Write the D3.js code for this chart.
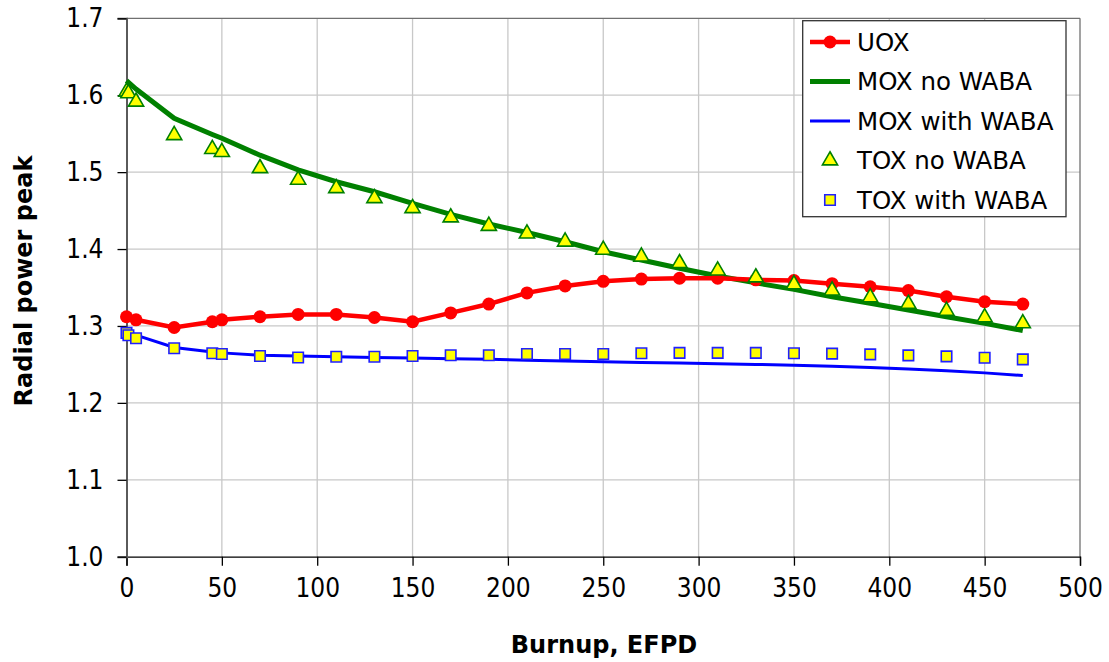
<!DOCTYPE html>
<html>
<head>
<meta charset="utf-8">
<script src="https://cdn.jsdelivr.net/npm/d3@7"></script>
<style>
  body { margin: 0; background: #fff; }
  svg { display: block; }
  text { font-family: 'DejaVu Sans', sans-serif; }
  .tick text { font-family: 'DejaVu Sans Condensed', 'DejaVu Sans', sans-serif; }
</style>
</head>
<body>
<div id="chart"></div>
<script>
// burnup points (EFPD)
const burnupCalc = [0, 5, 25, 45, 50, 70, 90, 110, 130, 150, 170, 190, 210, 230, 250, 270, 290, 310, 330, 350, 370, 390, 410, 430, 450, 470];
const burnupTox = [0, 1, 5, 25, 45, 50, 70, 90, 110, 130, 150, 170, 190, 210, 230, 250, 270, 290, 310, 330, 350, 370, 390, 410, 430, 450, 470];

const uox = [1.312, 1.308, 1.298, 1.3055, 1.308, 1.312, 1.315, 1.315, 1.311, 1.3055, 1.317, 1.3285, 1.343, 1.352, 1.358, 1.361, 1.362, 1.362, 1.360, 1.359, 1.355, 1.351, 1.346, 1.338, 1.3315, 1.3285];
const moxNoWaba = [1.619, 1.608, 1.570, 1.549, 1.544, 1.522, 1.503, 1.4875, 1.4745, 1.4594, 1.445, 1.4325, 1.4215, 1.4095, 1.3965, 1.3857, 1.375, 1.365, 1.356, 1.3476, 1.338, 1.3295, 1.3207, 1.312, 1.3034, 1.294];
const moxWithWaba = [1.2925, 1.288, 1.272, 1.266, 1.265, 1.262, 1.261, 1.260, 1.259, 1.2583, 1.2575, 1.2566, 1.2555, 1.2545, 1.2535, 1.2525, 1.2518, 1.251, 1.250, 1.249, 1.2475, 1.246, 1.244, 1.2418, 1.239, 1.2355];
const toxNoWaba = [1.6045, 1.6025, 1.5915, 1.548, 1.530, 1.526, 1.505, 1.490, 1.479, 1.466, 1.453, 1.441, 1.430, 1.420, 1.4095, 1.399, 1.390, 1.3815, 1.372, 1.363, 1.354, 1.346, 1.337, 1.3285, 1.3195, 1.311, 1.3034];
const toxWithWaba = [1.291, 1.288, 1.284, 1.271, 1.2645, 1.2635, 1.261, 1.259, 1.260, 1.260, 1.261, 1.262, 1.262, 1.2635, 1.2635, 1.2635, 1.2645, 1.265, 1.265, 1.265, 1.2645, 1.264, 1.263, 1.2618, 1.2605, 1.2587, 1.2566];

const xTicks = [0, 50, 100, 150, 200, 250, 300, 350, 400, 450, 500];
const yTicks = [1.0, 1.1, 1.2, 1.3, 1.4, 1.5, 1.6, 1.7];
const legendLabels = ['UOX', 'MOX no WABA', 'MOX with WABA', 'TOX no WABA', 'TOX with WABA'];

const width = 1109, height = 662;
const plot = { left: 126.5, right: 1080, top: 18.3, bottom: 556.7 };

const svg = d3.select('#chart').append('svg')
  .attr('width', width)
  .attr('height', height);

const x = d3.scaleLinear().domain([0, 500]).range([plot.left, plot.right]);
const y = d3.scaleLinear().domain([1.0, 1.7]).range([plot.bottom, plot.top]);

// grid
svg.append('g').selectAll('line.vgrid')
  .data(xTicks.slice(1, -1))
  .enter().append('line')
  .attr('x1', d => x(d)).attr('x2', d => x(d))
  .attr('y1', plot.top).attr('y2', plot.bottom)
  .style('stroke', '#c8c8c8').style('stroke-width', 1.3);

svg.append('g').selectAll('line.hgrid')
  .data(yTicks.slice(1, -1))
  .enter().append('line')
  .attr('x1', plot.left).attr('x2', plot.right)
  .attr('y1', d => y(d)).attr('y2', d => y(d))
  .style('stroke', '#c8c8c8').style('stroke-width', 1.3);

// plot frame (top/right)
svg.append('line')
  .attr('x1', plot.left).attr('x2', plot.right)
  .attr('y1', plot.top).attr('y2', plot.top)
  .style('stroke', '#707070').style('stroke-width', 1.3);
svg.append('line')
  .attr('x1', plot.right).attr('x2', plot.right)
  .attr('y1', plot.top).attr('y2', plot.bottom)
  .style('stroke', '#707070').style('stroke-width', 1.3);

// axes
const xAxis = d3.axisBottom(x).tickValues(xTicks).tickSizeOuter(0).tickSize(9).tickPadding(13);
const yAxis = d3.axisLeft(y).tickValues(yTicks).tickFormat(d3.format('.1f')).tickSizeOuter(0).tickSize(9).tickPadding(14);

const gx = svg.append('g')
  .attr('transform', 'translate(0,' + plot.bottom + ')')
  .call(xAxis);
gx.select('.domain').style('stroke', '#000').style('stroke-width', 1.3);
gx.selectAll('.tick line').style('stroke', '#000').style('stroke-width', 1.3);
gx.selectAll('.tick text')
  .style('font-size', '26px')
  .attr('fill', '#000')
  .attr('dy', '0.71em');

const gy = svg.append('g')
  .attr('transform', 'translate(' + plot.left + ',0)')
  .call(yAxis);
gy.select('.domain').style('stroke', '#5a5a5a').style('stroke-width', 2);
gy.selectAll('.tick line').style('stroke', '#000').style('stroke-width', 1.3);
gy.selectAll('.tick text')
  .style('font-size', '26px')
  .attr('fill', '#000');

// axis titles
svg.append('text')
  .attr('x', 604)
  .attr('y', 653)
  .attr('text-anchor', 'middle')
  .style('font-size', '24px')
  .style('font-weight', 'bold')
  .text('Burnup, EFPD');

svg.append('text')
  .attr('transform', 'translate(32,281) rotate(-90)')
  .attr('text-anchor', 'middle')
  .style('font-size', '24px')
  .style('font-weight', 'bold')
  .text('Radial power peak');

// series
const line = d3.line()
  .x(d => x(d[0]))
  .y(d => y(d[1]));

const zip = (xs, ys) => xs.map((v, i) => [v, ys[i]]);

const data = svg.append('g');

data.append('path')
  .datum(zip(burnupCalc, moxWithWaba))
  .attr('d', line)
  .attr('fill', 'none')
  .style('stroke', '#0000ff')
  .style('stroke-width', 3);

data.append('path')
  .datum(zip(burnupCalc, moxNoWaba))
  .attr('d', line)
  .attr('fill', 'none')
  .style('stroke', '#008000')
  .style('stroke-width', 5);

data.append('path')
  .datum(zip(burnupCalc, uox))
  .attr('d', line)
  .attr('fill', 'none')
  .style('stroke', '#ff0000')
  .style('stroke-width', 4.5);

data.selectAll('circle.uox')
  .data(zip(burnupCalc, uox))
  .enter().append('circle')
  .attr('cx', d => x(d[0]))
  .attr('cy', d => y(d[1]))
  .attr('r', 6.5)
  .attr('fill', '#ff0000');

const triangle = d3.symbol().type(d3.symbolTriangle).size(100);
const square = d3.symbol().type(d3.symbolSquare).size(110);

data.selectAll('path.toxSq')
  .data(zip(burnupTox, toxWithWaba))
  .enter().append('path')
  .attr('d', square)
  .attr('transform', d => 'translate(' + x(d[0]) + ',' + y(d[1]) + ')')
  .attr('fill', '#ffff00')
  .style('stroke', '#2020ff')
  .style('stroke-width', 1.6);

data.selectAll('path.toxTri')
  .data(zip(burnupTox, toxNoWaba))
  .enter().append('path')
  .attr('d', triangle)
  .attr('transform', d => 'translate(' + x(d[0]) + ',' + y(d[1]) + ')')
  .attr('fill', '#ffff00')
  .style('stroke', '#008000')
  .style('stroke-width', 1.6);

// legend
const legend = svg.append('g');
legend.append('rect')
  .attr('x', 802.7).attr('y', 20.7)
  .attr('width', 263.3).attr('height', 196)
  .attr('fill', '#fff')
  .style('stroke', '#333').style('stroke-width', 1.3);

const rowY = i => 42 + i * 39.5;

legend.selectAll('text.lab')
  .data(legendLabels)
  .enter().append('text')
  .attr('x', 857)
  .attr('y', (d, i) => rowY(i))
  .attr('dy', '0.36em')
  .style('font-size', '24.5px')
  .text(d => d);

const legendLines = [
  { color: '#ff0000', w: 4.5 },
  { color: '#008000', w: 5 },
  { color: '#0000ff', w: 3 }
];
legend.selectAll('line.sample')
  .data(legendLines)
  .enter().append('line')
  .attr('x1', 810).attr('x2', 850)
  .attr('y1', (d, i) => rowY(i)).attr('y2', (d, i) => rowY(i))
  .style('stroke', d => d.color)
  .style('stroke-width', d => d.w);

legend.append('circle')
  .attr('cx', 830).attr('cy', rowY(0)).attr('r', 6.5)
  .attr('fill', '#ff0000');
legend.append('path')
  .attr('d', triangle)
  .attr('transform', 'translate(830,' + rowY(3) + ')')
  .attr('fill', '#ffff00')
  .style('stroke', '#008000').style('stroke-width', 1.6);
legend.append('path')
  .attr('d', square)
  .attr('transform', 'translate(830,' + rowY(4) + ')')
  .attr('fill', '#ffff00')
  .style('stroke', '#2020ff').style('stroke-width', 1.6);
</script>
</body>
</html>
